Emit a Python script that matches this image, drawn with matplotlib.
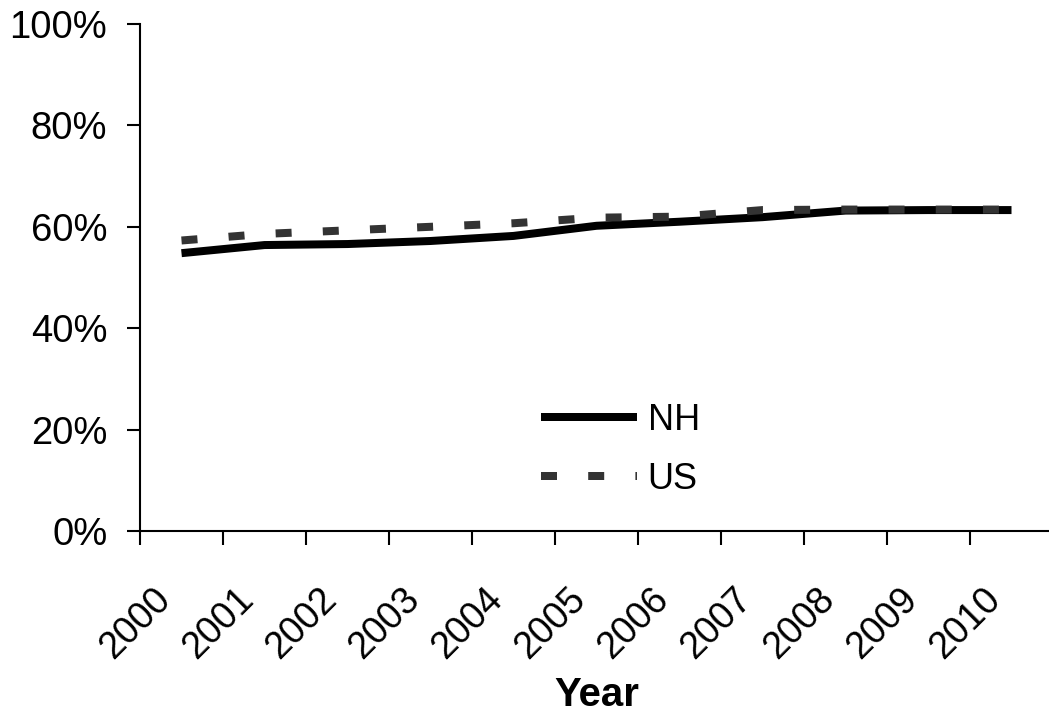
import matplotlib
matplotlib.use('Agg')
import matplotlib.pyplot as plt
from matplotlib.transforms import ScaledTranslation, blended_transform_factory
from matplotlib.ticker import PercentFormatter

plt.rcParams['font.family'] = ['Liberation Sans', 'DejaVu Sans']

# data (percent)
years = [2000, 2001, 2002, 2003, 2004, 2005, 2006, 2007, 2008, 2009, 2010]
nh = [54.8, 56.4, 56.6, 57.2, 58.2, 60.2, 61.0, 61.9, 63.2, 63.3, 63.3]
us = [57.3, 58.6, 59.3, 60.0, 60.7, 61.8, 62.0, 63.3, 63.4, 63.4, 63.4]

W, H = 1049, 713
fig = plt.figure(figsize=(W / 100, H / 100), dpi=100)
# plot area runs a bit past the right edge, like the source
ax = fig.add_axes([140 / W, (H - 531) / H, (1053 - 140) / W, (531 - 24) / H])

# categories sit between the tick marks
xpos = [i + 0.5 for i in range(len(years))]
lw = 8 * 72 / 100
ax.plot(xpos, nh, color='black', lw=lw, solid_capstyle='butt', label='NH')
ax.plot(xpos, us, color='#333333', lw=lw, dash_capstyle='butt',
        linestyle=(0, (2.0, 3.9)), label='US')

ax.set_xlim(0, len(years))
ax.set_ylim(0, 100)
ax.set_yticks(range(0, 101, 20))
ax.yaxis.set_major_formatter(PercentFormatter(decimals=0))
ax.set_xticks(range(len(years)))
ax.set_xticklabels([])

for s in ['top', 'right']:
    ax.spines[s].set_visible(False)
for s in ['left', 'bottom']:
    ax.spines[s].set_linewidth(1.5)
ax.tick_params(axis='y', direction='out', length=9.5, width=1.5, pad=14, labelsize=27.5)
ax.tick_params(axis='x', direction='out', length=10, width=1.5)

# rotated year labels
trans = blended_transform_factory(ax.transData, ax.transAxes) + \
    ScaledTranslation(12 / 100, -50 / 100, fig.dpi_scale_trans)
for i, yr in enumerate(years):
    ax.text(i, 0, str(yr), transform=trans, rotation=45, ha='right', va='top',
            rotation_mode='anchor', fontsize=27)

fig.text(596.5 / W, 7 / H, 'Year', ha='center', va='baseline',
         fontsize=29, fontweight='bold')

ax.legend(loc='upper left', bbox_to_anchor=(541 / W, 1 - 403 / H),
          bbox_transform=fig.transFigure, frameon=False, fontsize=26,
          handlelength=2.65, handletextpad=0.3, labelspacing=0.66,
          borderpad=0, borderaxespad=0)

fig.savefig('out.png', dpi=100)
